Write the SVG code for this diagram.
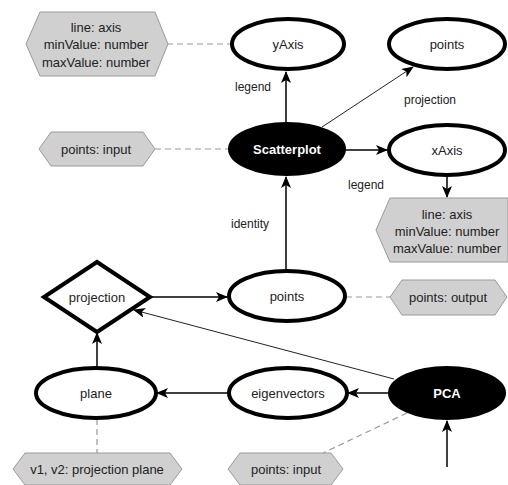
<svg xmlns="http://www.w3.org/2000/svg" width="508" height="485" viewBox="0 0 508 485">
  <style>
    .node { fill: #fff; stroke: #000; stroke-width: 4; }
    .dark { fill: #000; stroke: #000; stroke-width: 2; }
    .hex { fill: #d0d0d0; stroke: #9a9a9a; stroke-width: 1; }
    .lbl { font-family: "Liberation Sans", Arial, sans-serif; font-size: 13px; fill: #222; text-anchor: middle; dominant-baseline: central; }
    .wlbl { font-family: "Liberation Sans", Arial, sans-serif; font-size: 13px; font-weight: bold; fill: #fff; text-anchor: middle; dominant-baseline: central; }
    .edge { stroke: #000; stroke-width: 1.5; fill: none; marker-end: url(#arrow); }
    .thin { stroke: #222; stroke-width: 1; fill: none; marker-end: url(#arrow); }
    .dash { stroke: #999; stroke-width: 1.2; fill: none; stroke-dasharray: 6 4; }
    .elbl { font-family: "Liberation Sans", Arial, sans-serif; font-size: 12px; fill: #222; text-anchor: middle; dominant-baseline: central; }
  </style>
  <defs>
    <marker id="arrow" viewBox="0 0 12 10" refX="11" refY="5" markerWidth="12" markerHeight="10" markerUnits="userSpaceOnUse" orient="auto">
      <path d="M0,0 L12,5 L0,10 L3,5 z" fill="#000"/>
    </marker>
  </defs>

  <rect width="508" height="485" fill="#fff"/>

  <g id="connectors">
    <line class="edge" x1="286" y1="122" x2="286" y2="72"/>
    <line class="thin" x1="322" y1="127" x2="413" y2="67"/>
    <line class="edge" x1="346" y1="150" x2="387" y2="150"/>
    <line class="edge" x1="447" y1="176" x2="447" y2="197"/>
    <line class="edge" x1="286" y1="270" x2="286" y2="177"/>
    <line class="edge" x1="150" y1="297" x2="227" y2="297"/>
    <line class="thin" x1="394" y1="379" x2="134" y2="310"/>
    <line class="edge" x1="388" y1="393" x2="348" y2="393"/>
    <line class="edge" x1="228" y1="393" x2="157" y2="393"/>
    <line class="edge" x1="97" y1="368" x2="97" y2="333"/>
    <line class="edge" x1="447" y1="467" x2="447" y2="421"/>
    <line class="dash" x1="167" y1="44" x2="230" y2="44"/>
    <line class="dash" x1="155" y1="149" x2="228" y2="149"/>
    <line class="dash" x1="346" y1="297" x2="390" y2="297"/>
    <line class="dash" x1="97" y1="419" x2="97" y2="453"/>
    <line class="dash" x1="407" y1="413" x2="323" y2="453"/>
    <text class="elbl" x="253" y="87">legend</text>
    <text class="elbl" x="430" y="100">projection</text>
    <text class="elbl" x="366" y="185">legend</text>
    <text class="elbl" x="250" y="224">identity</text>
  </g>

  <g id="yAxisInfo">
    <polygon class="hex" points="40,12 155,12 168,44 155,76 40,76 26,44"/>
    <text class="lbl" x="96" y="27">line: axis</text>
    <text class="lbl" x="96" y="44">minValue: number</text>
    <text class="lbl" x="96" y="62">maxValue: number</text>
  </g>
  <g id="yAxis">
    <ellipse class="node" cx="288" cy="44" rx="56" ry="25"/>
    <text class="lbl" x="288" y="44">yAxis</text>
  </g>
  <g id="pointsTop">
    <ellipse class="node" cx="447" cy="44" rx="58" ry="25"/>
    <text class="lbl" x="447" y="44">points</text>
  </g>
  <g id="scatterInput">
    <polygon class="hex" points="51,132 143,132 155,149 143,166 51,166 39,149"/>
    <text class="lbl" x="96" y="149">points: input</text>
  </g>
  <g id="scatterplot">
    <ellipse class="dark" cx="287" cy="149" rx="58" ry="26"/>
    <text class="wlbl" x="287" y="149">Scatterplot</text>
  </g>
  <g id="xAxis">
    <ellipse class="node" cx="447" cy="150" rx="58" ry="25"/>
    <text class="lbl" x="447" y="150">xAxis</text>
  </g>
  <g id="xAxisInfo">
    <polygon class="hex" points="390,198 508,198 508,262 390,262 376,230"/>
    <text class="lbl" x="447" y="214">line: axis</text>
    <text class="lbl" x="447" y="231">minValue: number</text>
    <text class="lbl" x="447" y="248">maxValue: number</text>
  </g>
  <g id="projection">
    <polygon class="node" points="97,262 150,297 97,332 44,297" stroke-width="3"/>
    <text class="lbl" x="97" y="297">projection</text>
  </g>
  <g id="pointsMid">
    <ellipse class="node" cx="287" cy="296" rx="58" ry="25"/>
    <text class="lbl" x="287" y="296">points</text>
  </g>
  <g id="pointsOutput">
    <polygon class="hex" points="402,280 495,280 507,297 495,315 402,315 390,297"/>
    <text class="lbl" x="448" y="297">points: output</text>
  </g>
  <g id="plane">
    <ellipse class="node" cx="96" cy="393" rx="60" ry="25"/>
    <text class="lbl" x="96" y="393">plane</text>
  </g>
  <g id="eigenvectors">
    <ellipse class="node" cx="288" cy="393" rx="59" ry="25"/>
    <text class="lbl" x="288" y="393">eigenvectors</text>
  </g>
  <g id="pca">
    <ellipse class="dark" cx="447" cy="393" rx="58" ry="26"/>
    <text class="wlbl" x="447" y="393">PCA</text>
  </g>
  <g id="planeInfo">
    <polygon class="hex" points="25,453 170,453 182,469 170,485 25,485 13,469"/>
    <text class="lbl" x="97" y="469">v1, v2: projection plane</text>
  </g>
  <g id="pcaInput">
    <polygon class="hex" points="240,453 331,453 343,469 331,485 240,485 228,469"/>
    <text class="lbl" x="286" y="469">points: input</text>
  </g>
</svg>
